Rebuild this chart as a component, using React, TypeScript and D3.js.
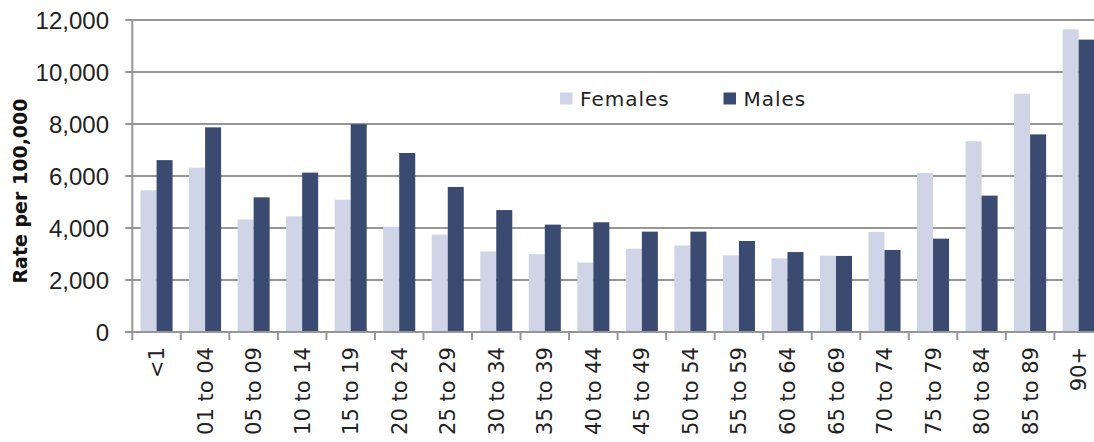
import React from "react";
import * as d3 from "d3";

const categories = ["<1", "01 to 04", "05 to 09", "10 to 14", "15 to 19", "20 to 24", "25 to 29", "30 to 34", "35 to 39", "40 to 44", "45 to 49", "50 to 54", "55 to 59", "60 to 64", "65 to 69", "70 to 74", "75 to 79", "80 to 84", "85 to 89", "90+"];
const females = [5450, 6320, 4330, 4450, 5090, 4050, 3745, 3100, 2990, 2670, 3205, 3330, 2950, 2830, 2935, 3850, 6115, 7335, 9165, 11640];
const males = [6610, 7870, 5180, 6130, 7990, 6885, 5580, 4690, 4130, 4220, 3860, 3860, 3500, 3075, 2925, 3155, 3590, 5245, 7600, 11245];
const yTicks = [0, 2000, 4000, 6000, 8000, 10000, 12000];
const seriesNames = ["Females", "Males"];
const seriesColors = ["#cfd4e6", "#3b4a70"];

export default function App() {
  const W = 1094, H = 442;
  const left = 132.3, right = 1102.9, top = 20, bottom = 332;
  const x = d3.scaleBand<string>().domain(categories).range([left, right]).paddingInner(0.34).paddingOuter(0.17);
  const xs = d3.scaleBand<string>().domain(seriesNames).range([0, x.bandwidth()]);
  const y = d3.scaleLinear().domain([0, 12000]).range([bottom, top]);
  const fmt = d3.format(",");
  const step = x.step();
  const grid = "#969696";
  const data = [females, males];

  return (
    <svg width={W} height={H} style={{ position: "absolute", left: 0, top: 0, background: "#fff" }}>
      {yTicks.map((t) => (
        <g key={t}>
          {t > 0 && <line x1={left} x2={W} y1={y(t)} y2={y(t)} stroke={grid} strokeWidth={2} />}
          <line x1={left - 7} x2={left} y1={y(t)} y2={y(t)} stroke={grid} strokeWidth={2} />
          <text x={109} y={y(t)} dy="0.36em" textAnchor="end" fontFamily="Liberation Sans, Arial, sans-serif" fontSize={24} fill="#222">{fmt(t)}</text>
        </g>
      ))}
      {data.map((vals, si) =>
        categories.map((c, i) => (
          <rect key={si + "-" + c} x={(x(c) as number) + (xs(seriesNames[si]) as number)} y={y(vals[i])} width={xs.bandwidth()} height={bottom - y(vals[i])} fill={seriesColors[si]} />
        ))
      )}
      <line x1={left} x2={left} y1={top} y2={bottom + 1} stroke={grid} strokeWidth={2} />
      <line x1={left - 7} x2={W} y1={bottom} y2={bottom} stroke={grid} strokeWidth={2} />
      {categories.map((c, i) => (
        <line key={"t" + c} x1={left + i * step} x2={left + i * step} y1={bottom} y2={bottom + 8} stroke={grid} strokeWidth={2} />
      ))}
      {categories.map((c) => {
        const cx = (x(c) as number) + x.bandwidth() / 2;
        return (
          <text key={"l" + c} transform={`translate(${cx},347) rotate(-90)`} textAnchor="end" dy="0.36em" fontFamily="DejaVu Sans, sans-serif" fontSize={21} fill="#222">{c}</text>
        );
      })}
      <text transform="translate(27,191) rotate(-90)" textAnchor="middle" fontFamily="DejaVu Sans, sans-serif" fontWeight="bold" fontSize={19} fill="#111">Rate per 100,000</text>
      {seriesNames.map((s, i) => {
        const lx = i === 0 ? 560 : 723.5;
        return (
          <g key={s}>
            <rect x={lx} y={92.5} width={12.5} height={12} fill={seriesColors[i]} />
            <text x={lx + 20} y={106} fontFamily="DejaVu Sans, sans-serif" fontSize={20} letterSpacing={1} fill="#222">{s}</text>
          </g>
        );
      })}
    </svg>
  );
}
